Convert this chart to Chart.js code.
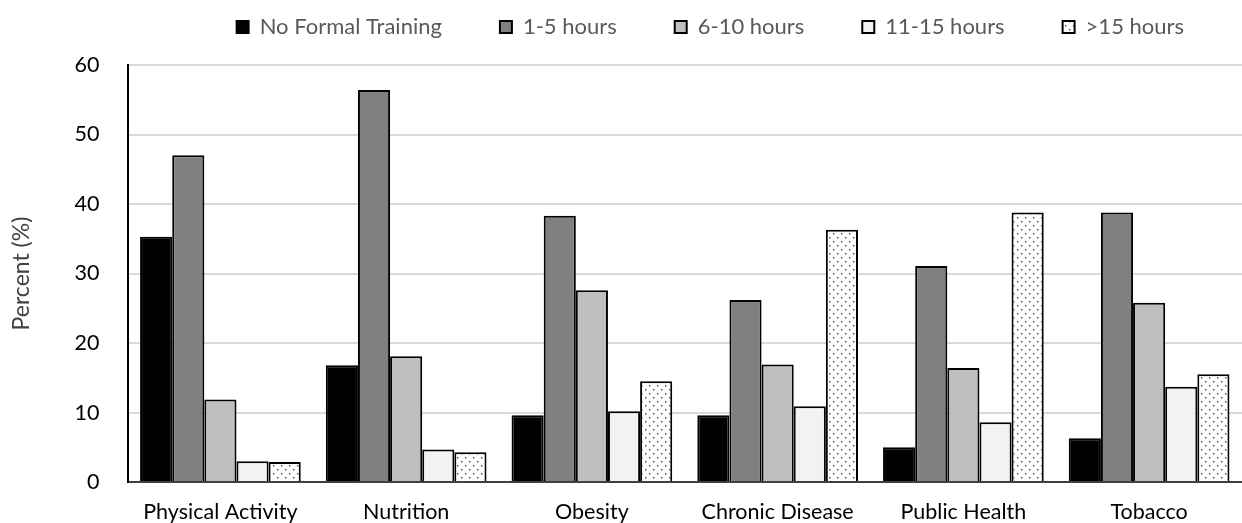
<!DOCTYPE html>
<html lang="en">
<head>
    <meta charset="UTF-8">
    <title>Training hours by topic</title>
    <style>
        body { margin: 0; background: #fff; }
        #wrap { width: 1242px; height: 523px; }
    </style>
</head>
<body>
    <div id="wrap"><canvas id="myChart"></canvas></div>
    <script src="https://cdn.jsdelivr.net/npm/chart.js"></script>
    <script>
        // data
        let topics = ['Physical Activity', 'Nutrition', 'Obesity', 'Chronic Disease', 'Public Health', 'Tobacco'];
        let noTraining = [35.3, 16.8, 9.6, 9.6, 5.0, 6.3];
        let hours1to5 = [47.0, 56.4, 38.3, 26.2, 31.1, 38.8];
        let hours6to10 = [11.9, 18.1, 27.6, 16.9, 16.4, 25.8];
        let hours11to15 = [3.0, 4.7, 10.2, 10.9, 8.6, 13.7];
        let hoursOver15 = [2.9, 4.3, 14.5, 36.3, 38.8, 15.5];
        let yTicks = [0, 10, 20, 30, 40, 50, 60];

        // dotted fill for the last series
        function dots() {
            let c = document.createElement('canvas');
            c.width = 8; c.height = 8;
            let g = c.getContext('2d');
            g.fillStyle = '#fff';
            g.fillRect(0, 0, 8, 8);
            g.fillStyle = '#555';
            g.fillRect(1, 1, 1.5, 1.5);
            g.fillRect(5, 5, 1.5, 1.5);
            return g.createPattern(c, 'repeat');
        }

        // legend padding is used both ways; keep the wide horizontal gaps
        // but correct the height it reserves
        let legendExtra = 17;
        const legendTrim = {
            id: 'legendTrim',
            beforeUpdate(chart) {
                let lg = chart.legend;
                if (lg && !lg._trimmed) {
                    let fit = lg.fit;
                    lg.fit = function () { fit.call(this); this.height += legendExtra; };
                    lg._trimmed = true;
                }
            }
        };

        Chart.defaults.font.family = 'Lato, "Open Sans", sans-serif';

        let ctx = document.querySelector('#myChart').getContext('2d');
        let ds = (label, data, bg) => ({
            label: label,
            data: data,
            backgroundColor: bg,
            borderColor: '#000',
            borderWidth: 2,
            borderSkipped: 'bottom',
            barPercentage: 1.0,
            categoryPercentage: 0.865
        });

        new Chart(ctx, {
            type: 'bar',
            data: {
                labels: topics,
                datasets: [
                    ds('No Formal Training', noTraining, '#000'),
                    ds('1-5 hours', hours1to5, '#808080'),
                    ds('6-10 hours', hours6to10, '#bfbfbf'),
                    ds('11-15 hours', hours11to15, '#f2f2f2'),
                    ds('>15 hours', hoursOver15, dots())
                ]
            },
            plugins: [legendTrim],
            options: {
                responsive: true,
                maintainAspectRatio: false,
                animation: false,
                layout: { padding: { top: -42, right: 0, left: 4, bottom: -19 } },
                plugins: {
                    tooltip: { enabled: false },
                    legend: {
                        position: 'top',
                        align: 'end',
                        labels: {
                            boxWidth: 12,
                            boxHeight: 12,
                            padding: 58,
                            color: '#595959',
                            font: { size: 22 }
                        }
                    }
                },
                scales: {
                    x: {
                        grid: { display: false },
                        border: { color: '#404040', width: 2 },
                        ticks: { color: '#000', font: { size: 21.5 }, padding: 9 }
                    },
                    y: {
                        min: 0,
                        max: 60,
                        afterBuildTicks: axis => { axis.ticks = yTicks.map(v => ({ value: v })); },
                        grid: { color: '#d9d9d9', lineWidth: 2, drawTicks: false },
                        border: { color: '#000', width: 2 },
                        ticks: { color: '#000', font: { size: 21.5 }, padding: 28 },
                        title: {
                            display: true,
                            text: 'Percent (%)',
                            color: '#404040',
                            font: { size: 23 },
                            padding: { bottom: 11 }
                        }
                    }
                }
            }
        });
    </script>
</body>
</html>
